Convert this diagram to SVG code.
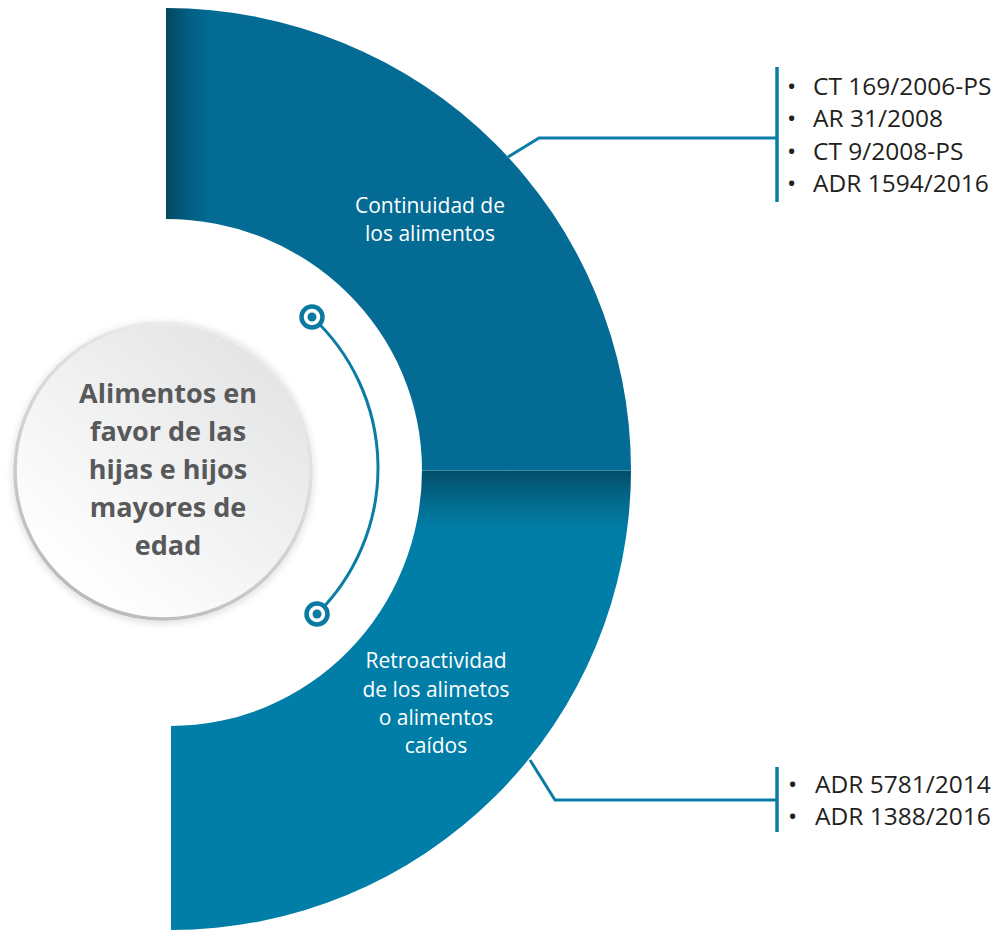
<svg xmlns="http://www.w3.org/2000/svg" width="998" height="931" viewBox="0 0 998 931">
  <defs>
    <linearGradient id="gTop" gradientUnits="userSpaceOnUse" x1="166" y1="0" x2="210" y2="0">
      <stop offset="0" stop-color="#02475f"/>
      <stop offset="0.5" stop-color="#035e83"/>
      <stop offset="1" stop-color="#036b94"/>
    </linearGradient>
    <linearGradient id="gBot" gradientUnits="userSpaceOnUse" x1="0" y1="470" x2="0" y2="530">
      <stop offset="0" stop-color="#024d68"/>
      <stop offset="0.5" stop-color="#03688c"/>
      <stop offset="1" stop-color="#017ea7"/>
    </linearGradient>
    <linearGradient id="gCircFill" x1="0.85" y1="0.1" x2="0.2" y2="0.9">
      <stop offset="0" stop-color="#e3e4e5"/>
      <stop offset="1" stop-color="#ffffff"/>
    </linearGradient>
    <linearGradient id="gCircStroke" x1="0.8" y1="0" x2="0.3" y2="1">
      <stop offset="0" stop-color="#f2f2f2"/>
      <stop offset="0.5" stop-color="#d6d6d6"/>
      <stop offset="1" stop-color="#b9b9ba"/>
    </linearGradient>
    <filter id="sh" x="-10%" y="-10%" width="120%" height="120%">
      <feGaussianBlur in="SourceAlpha" stdDeviation="4"/>
      <feOffset dx="0" dy="2" result="b"/>
      <feComponentTransfer><feFuncA type="linear" slope="0.15"/></feComponentTransfer>
      <feMerge><feMergeNode/><feMergeNode in="SourceGraphic"/></feMerge>
    </filter>
  </defs>
  <style>
    .band-label { font-family: "Open Sans", "Noto Sans", sans-serif; font-size: 21px; fill: #ffffff; text-anchor: middle; }
    .center-label { font-family: "Open Sans", "Noto Sans", sans-serif; font-size: 27px; font-weight: bold; fill: #58595b; text-anchor: middle; }
    .item { font-family: "Open Sans", "Noto Sans", sans-serif; font-size: 24.5px; fill: #231f20; }
    .conn { fill: none; stroke: #0a7ca5; stroke-width: 3; }
    .bar { fill: none; stroke: #0a7ca5; stroke-width: 3.5; }
    .dot-ring { fill: #ffffff; stroke: #0a7aa2; stroke-width: 4.5; }
    .dot-core { fill: #0a7aa2; }
  </style>

  <g id="band-top">
    <path d="M166,8 A465,462 0 0 1 631,470 L422,470 A256,251 0 0 0 166,219 Z" fill="url(#gTop)"/>
    <text class="band-label" x="430" y="213">Continuidad de</text>
    <text class="band-label" x="430" y="241">los alimentos</text>
  </g>

  <g id="band-bottom">
    <path d="M631,470 A460,460 0 0 1 171,930 L171,726 A251,256 0 0 0 422,470 Z" fill="url(#gBot)"/>
    <line x1="422" y1="470.5" x2="631" y2="470.5" stroke="#3f8fae" stroke-width="1"/>
    <text class="band-label" x="436" y="668">Retroactividad</text>
    <text class="band-label" x="436" y="697">de los alimetos</text>
    <text class="band-label" x="436" y="725">o alimentos</text>
    <text class="band-label" x="436" y="753">caídos</text>
  </g>

  <g id="center">
    <circle cx="163" cy="471" r="148" fill="url(#gCircFill)" stroke="url(#gCircStroke)" stroke-width="3.5" filter="url(#sh)"/>
    <text class="center-label" x="168" y="403">Alimentos en</text>
    <text class="center-label" x="168" y="441">favor de las</text>
    <text class="center-label" x="168" y="479">hijas e hijos</text>
    <text class="center-label" x="168" y="517">mayores de</text>
    <text class="center-label" x="168" y="555">edad</text>
  </g>

  <g id="connectors">
    <path class="conn" d="M312,317 A205.5,205.5 0 0 1 317,614"/>
    <path class="conn" d="M508,157 L539,138 L777,138"/>
    <path class="conn" d="M530,760 L555,800 L777,800"/>
  </g>

  <g id="dot-top">
    <circle class="dot-ring" cx="312" cy="317" r="10.5"/>
    <circle class="dot-core" cx="312" cy="317" r="4.5"/>
  </g>
  <g id="dot-bottom">
    <circle class="dot-ring" cx="317" cy="614" r="10.5"/>
    <circle class="dot-core" cx="317" cy="614" r="4.5"/>
  </g>

  <g id="list-top">
    <line class="bar" x1="777" y1="67" x2="777" y2="202"/>
    <text class="item" x="787" y="95">•</text><text class="item" x="813" y="95">CT 169/2006-PS</text>
    <text class="item" x="787" y="127">•</text><text class="item" x="813" y="127">AR 31/2008</text>
    <text class="item" x="787" y="160">•</text><text class="item" x="813" y="160">CT 9/2008-PS</text>
    <text class="item" x="787" y="192">•</text><text class="item" x="813" y="192">ADR 1594/2016</text>
  </g>

  <g id="list-bottom">
    <line class="bar" x1="777" y1="767" x2="777" y2="832"/>
    <text class="item" x="788" y="793">•</text><text class="item" x="815" y="793">ADR 5781/2014</text>
    <text class="item" x="788" y="825">•</text><text class="item" x="815" y="825">ADR 1388/2016</text>
  </g>
</svg>
